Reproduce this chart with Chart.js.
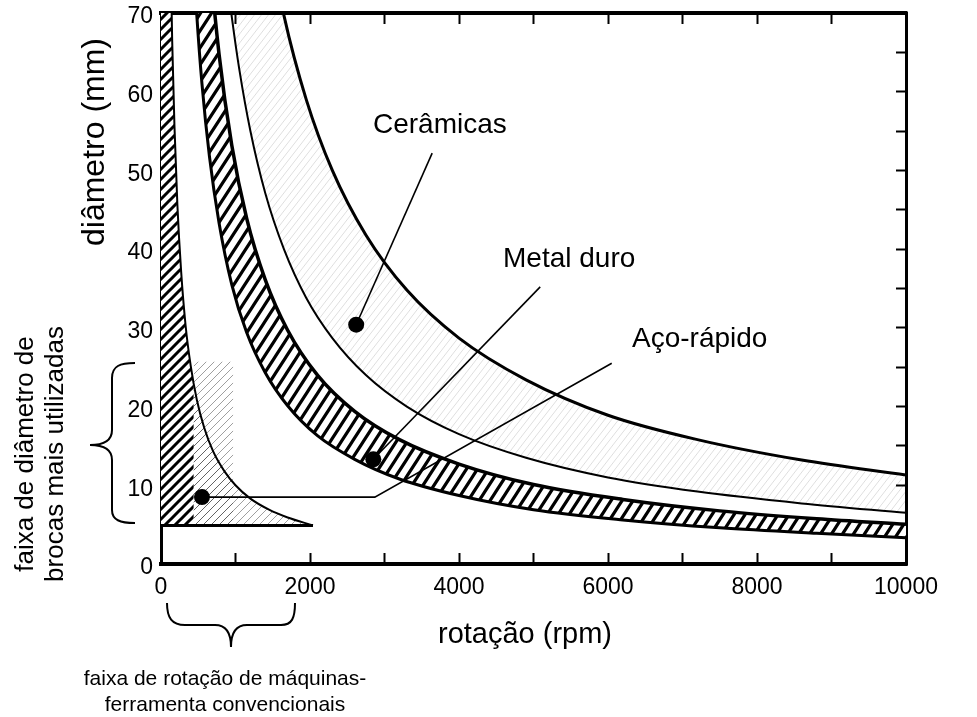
<!DOCTYPE html>
<html><head><meta charset="utf-8">
<script src="https://cdn.jsdelivr.net/npm/chart.js@4.4.1/dist/chart.umd.min.js"></script>
<style>html,body{margin:0;padding:0;background:#fff}#wrap{width:977px;height:717px;position:relative}</style>
</head><body><div id="wrap"><canvas id="c" width="977" height="717"></canvas></div>
<script>
// ---- data (x = rotação in rpm, y = diâmetro in mm) ----
const xLabelled = [0, 2000, 4000, 6000, 8000, 10000];
const yLabelled = [0, 10, 20, 30, 40, 50, 60, 70];

// Aço-rápido boundary curve
const hssRpm  = [130, 150, 180, 220, 270, 330, 400, 480, 580, 700, 850, 1000, 1200, 1450, 1700, 2040];
const hssDiam = [77, 66.5, 55.8, 45.6, 37.2, 30.3, 25.1, 20.9, 17.3, 14.3, 11.8, 10.0, 8.3, 6.9, 5.9, 4.9];
// densely hatched part of the Aço-rápido field
const hssDenseRpm  = [0, 130, 150, 180, 220, 270, 330, 400, 440];
const hssDenseDiam = [80, 77, 66.5, 55.8, 45.6, 37.2, 30.3, 25.1, 22.8];
// most used drill range (light hatch top edge) and base line
const faixaRpm  = [440, 970];
const faixaDiam = [25.7, 25.7];
const baseRpm  = [0, 2040];
const baseDiam = [4.9, 4.9];

// Metal duro band
const bandRpm     = [430, 480, 550, 650, 780, 950, 1150, 1400, 1700, 2100, 2600, 3200, 4000, 5000, 6200, 7500, 8800, 10000];
const carbideLow  = [77.9, 69.8, 61.0, 51.8, 43.3, 35.5, 29.4, 24.3, 20.1, 16.3, 13.3, 10.8, 8.7, 6.9, 5.6, 4.6, 3.9, 3.35];
const carbideHigh = [117, 105, 92, 77.7, 64.7, 53.2, 43.9, 36.1, 29.7, 24.0, 19.4, 15.8, 12.7, 10.1, 8.2, 6.75, 5.75, 5.05];

// Cerâmicas band
const cerRpm  = [900, 950, 1050, 1200, 1400, 1650, 1950, 2300, 2750, 3300, 4000, 4900, 6000, 7200, 8600, 10000];
const cerLow  = [73.3, 69.5, 62.9, 55.0, 47.1, 40.0, 33.8, 28.7, 24.0, 20.0, 16.5, 13.5, 11.0, 9.2, 7.7, 6.5];
const cerHigh = [128, 121, 109.5, 95.8, 82.1, 69.7, 59.0, 50.0, 41.8, 34.8, 28.7, 23.4, 18.9, 15.8, 13.2, 11.3];

// label pointers and marker dots
const cerPtrRpm = [2620, 3640],  cerPtrDiam = [30.4, 52.2];
const carPtrRpm = [2850, 5090],  carPtrDiam = [13.3, 35.2];
const hssPtrRpm = [550, 2870, 6050], hssPtrDiam = [8.5, 8.5, 25.5];
const dotRpm  = [2620, 2850, 550];
const dotDiam = [30.4, 13.3, 8.5];

// ---- helpers ----
const FONT = '"Liberation Sans", Arial, Helvetica, sans-serif';
Chart.defaults.font.family = FONT;
Chart.defaults.color = '#000';
const pts = (xs, ys) => xs.map((x, i) => ({x, y: ys[i]}));
const pctx = document.createElement('canvas').getContext('2d');
function hatch(w, h, lw, color, bg) {
  const c = document.createElement('canvas'); c.width = w; c.height = h;
  const g = c.getContext('2d');
  if (bg) { g.fillStyle = bg; g.fillRect(0, 0, w, h); }
  g.strokeStyle = color; g.lineWidth = lw;
  g.beginPath();
  for (const o of [-w, 0, w]) { g.moveTo(o - w * 0.2, h * 1.2); g.lineTo(o + w * 1.2, -h * 0.2); }
  g.stroke();
  return pctx.createPattern(c, 'repeat');
}
const densePat = hatch(10, 10, 3, '#000', '#fff');
const bandPat  = hatch(11, 17, 3.2, '#000', '#fff');
const hssLight = hatch(8, 8, 1, 'rgba(0,0,0,0.38)', null);
const cerLight = hatch(7, 9, 1, 'rgba(0,0,0,0.13)', null);

const line = (data, bw, extra) => Object.assign({
  data, showLine: true, borderColor: '#000', borderWidth: bw, pointRadius: 0,
  fill: false, cubicInterpolationMode: 'monotone'
}, extra || {});

const datasets = [
  {data: pts(dotRpm, dotDiam), showLine: false, pointRadius: 8, pointBackgroundColor: '#000', pointBorderWidth: 0},
  line(pts(cerPtrRpm, cerPtrDiam), 1.6, {cubicInterpolationMode: 'default', tension: 0}),
  line(pts(carPtrRpm, carPtrDiam), 1.6, {cubicInterpolationMode: 'default', tension: 0}),
  line(pts(hssPtrRpm, hssPtrDiam), 1.6, {cubicInterpolationMode: 'default', tension: 0}),
  line(pts(baseRpm, baseDiam), 3, {cubicInterpolationMode: 'default', tension: 0}),
  line(pts(hssDenseRpm, hssDenseDiam), 0, {fill: {value: 4.9}, backgroundColor: densePat}),
  line(pts(hssRpm, hssDiam), 2, {fill: {value: 4.9}, backgroundColor: hssLight}),
  line(pts(faixaRpm, faixaDiam), 0, {fill: {value: 4.9}, backgroundColor: hssLight, cubicInterpolationMode: 'default', tension: 0}),
  line(pts(bandRpm, carbideHigh), 3.5, {fill: '+1', backgroundColor: bandPat}),
  line(pts(bandRpm, carbideLow), 3),
  line(pts(cerRpm, cerHigh), 3, {fill: '+1', backgroundColor: cerLight}),
  line(pts(cerRpm, cerLow), 2)
];

const tickGrid = (len) => ({display: true, drawOnChartArea: false, drawTicks: true, tickLength: -len, tickWidth: 2, color: '#000'});
const noPad = s => { s.paddingTop = 0; s.paddingBottom = 0; s.paddingLeft = 0; s.paddingRight = 0; };

const notes = {
  id: 'notes',
  afterDraw(chart) {
    const c = chart.ctx;
    c.save();
    c.fillStyle = '#000'; c.strokeStyle = '#000';
    c.textBaseline = 'alphabetic';
    c.font = '28px ' + FONT; c.textAlign = 'left';
    c.fillText('Cerâmicas', 373, 133);
    c.fillText('Metal duro', 503, 267);
    c.fillText('Aço-rápido', 632, 347);
    c.textAlign = 'center';
    c.font = '29px ' + FONT;
    c.fillText('rotação (rpm)', 525, 643);
    c.save(); c.translate(104, 142); c.rotate(-Math.PI / 2);
    c.font = '32px ' + FONT; c.fillText('diâmetro (mm)', 0, 0); c.restore();
    c.save(); c.translate(33, 454); c.rotate(-Math.PI / 2);
    c.font = '26px ' + FONT; c.fillText('faixa de diâmetro de', 0, 0);
    c.fillText('brocas mais utilizadas', 0, 30); c.restore();
    c.font = '21px ' + FONT;
    c.fillText('faixa de rotação de máquinas-', 225, 685);
    c.fillText('ferramenta convencionais', 225, 711);
    // braces
    c.lineWidth = 2;
    c.beginPath();
    c.moveTo(135, 363); c.bezierCurveTo(120, 363, 112, 366, 112, 378);
    c.lineTo(112, 430); c.bezierCurveTo(112, 440, 104, 445, 90, 445);
    c.bezierCurveTo(104, 445, 112, 450, 112, 460);
    c.lineTo(112, 510); c.bezierCurveTo(112, 520, 120, 523, 135, 523);
    c.stroke();
    c.beginPath();
    c.moveTo(167, 603); c.bezierCurveTo(167, 618, 172, 625, 185, 625);
    c.lineTo(215, 625); c.bezierCurveTo(225, 625, 231, 632, 231, 647);
    c.bezierCurveTo(231, 632, 237, 625, 247, 625);
    c.lineTo(281, 625); c.bezierCurveTo(292, 625, 295, 618, 295, 603);
    c.stroke();
    c.restore();
  }
};

new Chart(document.getElementById('c'), {
  type: 'scatter',
  data: {datasets},
  options: {
    responsive: false, animation: false, devicePixelRatio: 1,
    layout: {padding: 0},
    plugins: {legend: {display: false}, tooltip: {enabled: false}, filler: {drawTime: 'beforeDatasetsDraw'}},
    scales: {
      x: {type: 'linear', position: 'bottom', min: 0, max: 10000,
          ticks: {stepSize: 1000, autoSkip: false, maxRotation: 0, padding: 21, font: {size: 23},
                  callback: v => xLabelled.includes(v) ? String(v) : ''},
          grid: tickGrid(11), border: {display: true, color: '#000', width: 4},
          afterFit: s => { s.height = 153; noPad(s); }},
      x2: {type: 'linear', position: 'top', min: 0, max: 10000,
          ticks: {stepSize: 1000, autoSkip: false, maxRotation: 0, callback: () => ''},
          grid: tickGrid(11), border: {display: true, color: '#000', width: 4},
          afterFit: s => { s.height = 13; noPad(s); }},
      y: {type: 'linear', position: 'left', min: 0, max: 70,
          ticks: {stepSize: 5, autoSkip: false, padding: 18, labelOffset: 4, font: {size: 23},
                  callback: v => yLabelled.includes(v) ? String(v) : ''},
          grid: tickGrid(10), border: {display: true, color: '#000', width: 3},
          afterFit: s => { s.width = 161; noPad(s); }},
      y2: {type: 'linear', position: 'right', min: 0, max: 70,
          ticks: {stepSize: 5, autoSkip: false, callback: () => ''},
          grid: tickGrid(10), border: {display: true, color: '#000', width: 3},
          afterFit: s => { s.width = 71; noPad(s); }}
    }
  },
  plugins: [notes]
});
</script>
</body></html>
